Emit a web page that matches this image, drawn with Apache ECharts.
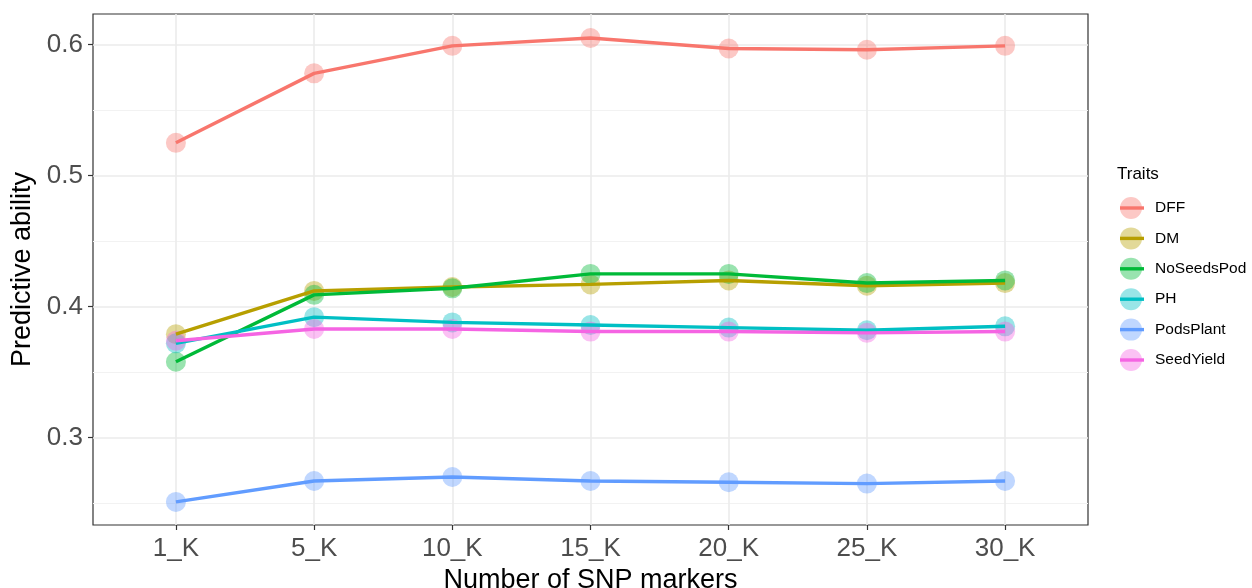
<!DOCTYPE html>
<html>
<head>
<meta charset="utf-8">
<title>Predictive ability by number of SNP markers</title>
<script src="https://cdn.jsdelivr.net/npm/echarts@6/dist/echarts.min.js"></script>
<style>
  html, body { margin: 0; padding: 0; background: #ffffff; }
  #chart { width: 1252px; height: 588px; }
</style>
</head>
<body>
<div id="chart"></div>
<script>
// Marker-set sizes on the x axis
const categories = ['1_K', '5_K', '10_K', '15_K', '20_K', '25_K', '30_K'];

// Predictive ability per trait
const DFF        = [0.525, 0.578, 0.599, 0.605, 0.597, 0.596, 0.599];
const DM         = [0.379, 0.412, 0.415, 0.417, 0.420, 0.416, 0.418];
const NoSeedsPod = [0.358, 0.409, 0.414, 0.425, 0.425, 0.418, 0.420];
const PH         = [0.372, 0.392, 0.388, 0.386, 0.384, 0.382, 0.385];
const PodsPlant  = [0.251, 0.267, 0.270, 0.267, 0.266, 0.265, 0.267];
const SeedYield  = [0.374, 0.383, 0.383, 0.381, 0.381, 0.380, 0.381];

const traitNames = ['DFF', 'DM', 'NoSeedsPod', 'PH', 'PodsPlant', 'SeedYield'];
const traitValues = [DFF, DM, NoSeedsPod, PH, PodsPlant, SeedYield];
const traitColors = ['#F8766D', '#B79F00', '#00BA38', '#00BFC4', '#619CFF', '#F564E3'];

// Axis tick labels
const yTicks = [0.3, 0.4, 0.5, 0.6];
const yMinorTicks = [0.25, 0.35, 0.45, 0.55];
const xTicks = categories.map((c, i) => i);

const FONT = '"Liberation Sans", Arial, Helvetica, sans-serif';

const chart = echarts.init(document.getElementById('chart'), null, { renderer: 'canvas' });

function points(values) {
  return values.map((v, i) => [i, v]);
}

// translucent points sit underneath the solid lines
const pointSeries = traitNames.map((name, k) => ({
  name: name,
  type: 'scatter',
  data: points(traitValues[k]),
  symbol: 'circle',
  symbolSize: 20,
  itemStyle: { color: traitColors[k], opacity: 0.4 },
  z: 2,
  silent: true
}));

const lineSeries = traitNames.map((name, k) => ({
  name: name,
  type: 'line',
  data: points(traitValues[k]),
  showSymbol: false,
  symbol: 'none',
  lineStyle: { color: traitColors[k], width: 3.4 },
  itemStyle: { color: traitColors[k] },
  z: 3,
  silent: true
}));

const option = {
  backgroundColor: '#ffffff',
  animation: false,
  grid: {
    left: 93, right: 164, top: 14, bottom: 63,
    outerBoundsMode: 'none',
    containLabel: false,
    show: true,
    borderColor: '#333333',
    borderWidth: 1.2,
    backgroundColor: 'transparent'
  },
  xAxis: {
    type: 'value',
    min: -0.6,
    max: 6.6,
    position: 'bottom',
    axisLine: { show: false, onZero: false },
    axisTick: {
      show: true,
      customValues: xTicks,
      length: 5,
      lineStyle: { color: '#333333', width: 1.2 }
    },
    axisLabel: {
      customValues: xTicks,
      formatter: v => categories[Math.round(v)] || '',
      color: '#4D4D4D',
      fontFamily: FONT,
      fontSize: 26,
      margin: 11
    },
    splitLine: { show: true, lineStyle: { color: '#EBEBEB', width: 1.6 } },
    name: 'Number of SNP markers',
    nameLocation: 'middle',
    nameGap: 37,
    nameTextStyle: { color: '#000000', fontFamily: FONT, fontSize: 27 }
  },
  yAxis: [
    {
      type: 'value',
      min: 0.2334,
      max: 0.6233,
      position: 'left',
      axisLine: { show: false, onZero: false },
      axisTick: {
        show: true,
        customValues: yTicks,
        length: 5,
        lineStyle: { color: '#333333', width: 1.2 }
      },
      axisLabel: {
        customValues: yTicks,
        formatter: v => v.toFixed(1),
        color: '#4D4D4D',
        fontFamily: FONT,
        fontSize: 26,
        margin: 10
      },
      splitLine: { show: true, lineStyle: { color: '#EBEBEB', width: 1.6 } },
      name: 'Predictive ability',
      nameLocation: 'middle',
      nameGap: 56,
      nameRotate: 90,
      nameTextStyle: { color: '#000000', fontFamily: FONT, fontSize: 27 }
    },
    {
      // minor grid lines between the labelled values
      type: 'value',
      min: 0.2334,
      max: 0.6233,
      position: 'left',
      axisLine: { show: false, onZero: false },
      axisTick: { show: false, customValues: yMinorTicks },
      axisLabel: { show: false, customValues: yMinorTicks },
      splitLine: { show: true, lineStyle: { color: '#F2F2F2', width: 1.2 } }
    }
  ],
  legend: [
    {
      // translucent circles and names of the key
      orient: 'vertical',
      left: 1120,
      top: 197,
      padding: 0,
      icon: 'circle',
      itemWidth: 22,
      itemHeight: 22,
      itemGap: 8.4,
      data: traitNames,
      itemStyle: { opacity: 0.4 },
      textStyle: {
        color: '#000000',
        fontFamily: FONT,
        fontSize: 15.5,
        padding: [0, 0, 0, 8]
      },
      selectedMode: false
    },
    {
      // solid line strokes across the circles
      orient: 'vertical',
      left: 1120,
      top: 206.3,
      padding: 0,
      icon: 'rect',
      itemWidth: 24,
      itemHeight: 3.4,
      itemGap: 27,
      data: traitNames,
      itemStyle: { opacity: 1 },
      textStyle: { color: 'rgba(0,0,0,0)', fontSize: 1, lineHeight: 1 },
      selectedMode: false
    }
  ],
  graphic: [
    {
      type: 'text',
      left: 1117,
      top: 166,
      style: { text: 'Traits', fill: '#000000', font: '17px ' + FONT }
    }
  ],
  series: pointSeries.concat(lineSeries)
};

chart.setOption(option);
</script>
</body>
</html>
